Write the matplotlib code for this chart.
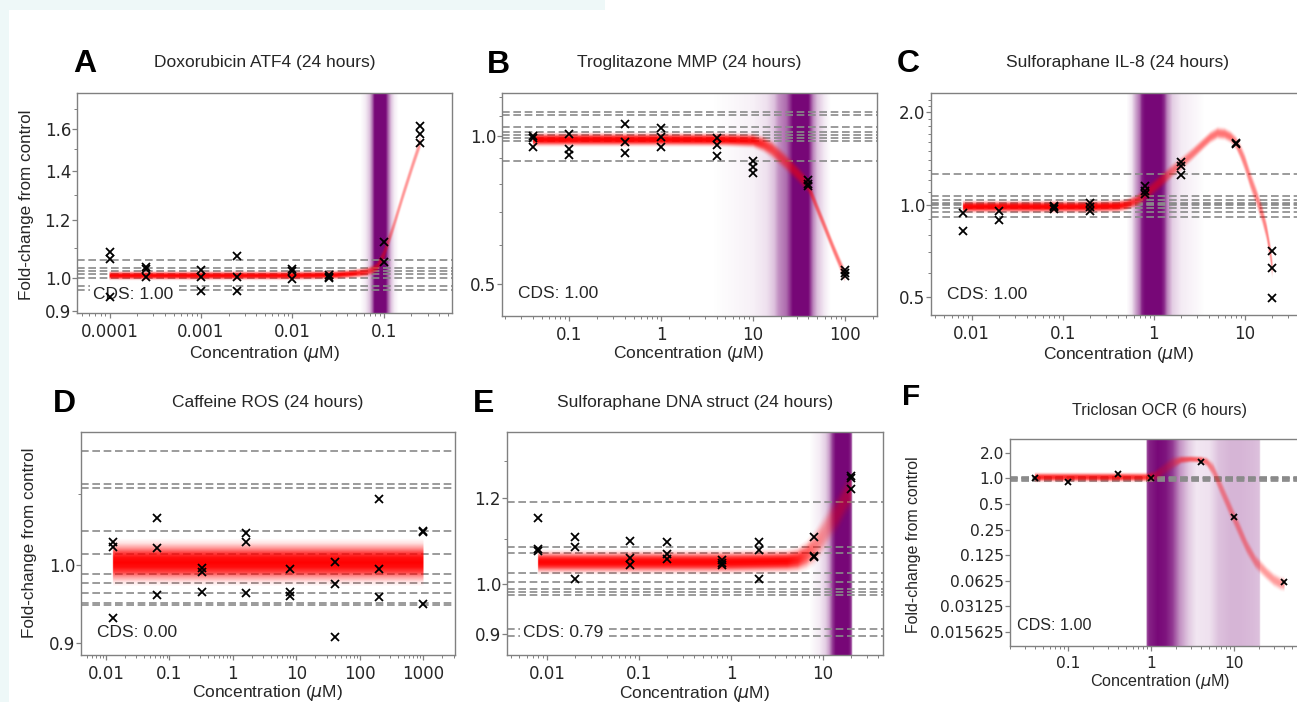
import numpy as np
import matplotlib
matplotlib.use("Agg")
import matplotlib.pyplot as plt
from matplotlib.patches import Rectangle
from matplotlib.ticker import FixedLocator, FixedFormatter, NullFormatter, LogLocator

W, H, DPI = 1297, 702, 100

# ---------------- data ----------------
# A: Doxorubicin ATF4 (24 hours)
a_dose = [0.0001, 0.0001, 0.0001, 0.00025, 0.00025, 0.00025, 0.001, 0.001, 0.001,
          0.0025, 0.0025, 0.0025, 0.01, 0.01, 0.01, 0.025, 0.025, 0.025,
          0.1, 0.1, 0.25, 0.25, 0.25]
a_fold = [1.085, 1.062, 0.940, 1.035, 1.028, 1.002, 1.024, 1.002, 0.960,
          1.071, 1.002, 0.958, 1.029, 1.021, 0.997, 1.010, 1.004, 1.000,
          1.118, 1.051, 1.615, 1.573, 1.529]
a_null = [1.059, 1.032, 1.021, 1.011, 1.000, 0.973, 0.962]
a_fit_x = [0.0001, 0.001, 0.01, 0.03, 0.046, 0.0646, 0.075, 0.085, 0.1, 0.126, 0.163, 0.21, 0.25]
a_fit_y = [1.007, 1.007, 1.007, 1.009, 1.013, 1.018, 1.025, 1.035, 1.075, 1.17, 1.30, 1.435, 1.53]
a_fit_sd = [0.007, 0.007, 0.007, 0.007, 0.007, 0.008, 0.008, 0.009, 0.012, 0.012, 0.012, 0.012, 0.012]
a_fit_w = [1.0, 1.0, 1.0, 1.0, 0.95, 0.8, 0.65, 0.55, 0.45, 0.42, 0.42, 0.42, 0.42]
a_cp_x = [0.055, 0.063, 0.07, 0.075, 0.079, 0.105, 0.112, 0.12, 0.13, 0.145]
a_cp_w = [0.0, 0.08, 0.25, 0.6, 1.0, 1.0, 0.6, 0.25, 0.08, 0.0]
a_cds = "CDS: 1.00"

# B: Troglitazone MMP (24 hours)
b_dose = [0.04, 0.04, 0.04, 0.1, 0.1, 0.1, 0.4, 0.4, 0.4, 1, 1, 1,
          4, 4, 4, 10, 10, 10, 40, 40, 40, 100, 100, 100]
b_fold = [1.0, 0.99, 0.951, 1.009, 0.94, 0.915, 1.056, 0.974, 0.922, 1.037, 0.994, 0.948,
          0.989, 0.959, 0.912, 0.891, 0.866, 0.842, 0.814, 0.80, 0.791, 0.534, 0.525, 0.519]
b_null = [1.12, 1.103, 1.041, 1.02, 1.005, 0.989, 0.978, 0.891]
b_fit_x = [0.04, 0.1, 1, 5, 10, 13, 16, 20, 25, 30, 35, 40, 50, 60, 75, 100]
b_fit_y = [0.983, 0.983, 0.983, 0.982, 0.978, 0.962, 0.94, 0.905, 0.87, 0.84, 0.815, 0.79,
           0.712, 0.655, 0.59, 0.52]
b_fit_sd = [0.016, 0.016, 0.016, 0.016, 0.017, 0.02, 0.022, 0.022, 0.022, 0.021, 0.02, 0.018,
            0.017, 0.017, 0.017, 0.017]
b_fit_w = [1.0, 1.0, 1.0, 1.0, 0.95, 0.8, 0.7, 0.6, 0.55, 0.55, 0.55, 0.55, 0.55, 0.55, 0.55, 0.55]
b_cp_x = [3.5, 6, 10, 14, 17, 19, 23, 25.5, 27, 40, 42, 45, 50, 60, 70]
b_cp_w = [0.0, 0.03, 0.06, 0.12, 0.25, 0.45, 0.6, 0.85, 1.0, 1.0, 0.8, 0.5, 0.25, 0.08, 0.0]
b_cds = "CDS: 1.00"

# C: Sulforaphane IL-8 (24 hours)
c_dose = [0.008, 0.008, 0.02, 0.02, 0.08, 0.08, 0.08, 0.2, 0.2, 0.2,
          0.8, 0.8, 0.8, 2, 2, 2, 8, 8, 20, 20, 20]
c_fold = [0.940, 0.819, 0.956, 0.889, 0.99, 0.98, 0.97, 1.017, 0.987, 0.958,
          1.153, 1.105, 1.083, 1.373, 1.339, 1.246, 1.59, 1.576, 0.705, 0.625, 0.497]
c_null = [1.262, 1.065, 1.04, 1.015, 1.005, 0.995, 0.975, 0.95, 0.915]
c_fit_x = [0.008, 0.05, 0.2, 0.4, 0.5, 0.65, 0.8, 1.0, 1.3, 1.6, 2.0, 2.7, 3.5, 4.2, 5.0,
           6.0, 7.0, 8.0, 9.0, 10, 11.5, 13.4, 15.5, 17.3, 19, 20]
c_fit_y = [0.985, 0.985, 0.985, 0.99, 1.0, 1.03, 1.08, 1.14, 1.22, 1.29, 1.36, 1.47, 1.58, 1.66,
           1.71, 1.70, 1.66, 1.59, 1.48, 1.37, 1.20, 1.06, 0.93, 0.82, 0.70, 0.62]
c_fit_sd = [0.023, 0.023, 0.023, 0.023, 0.023, 0.025, 0.028, 0.03, 0.03, 0.028, 0.027, 0.026,
            0.025, 0.025, 0.025, 0.025, 0.025, 0.028, 0.033, 0.038, 0.04, 0.04, 0.04, 0.04,
            0.04, 0.04]
c_fit_w = [1.0, 1.0, 1.0, 1.0, 0.9, 0.7, 0.55, 0.5, 0.5, 0.5, 0.5, 0.52, 0.55, 0.55, 0.55,
           0.55, 0.55, 0.52, 0.5, 0.5, 0.5, 0.5, 0.5, 0.5, 0.5, 0.5]
c_cp_x = [0.5, 0.57, 0.63, 0.7, 0.74, 0.8, 1.2, 1.3, 1.4, 1.6, 2.0, 3.0, 3.6]
c_cp_w = [0.0, 0.1, 0.35, 0.6, 0.9, 1.0, 1.0, 0.85, 0.5, 0.2, 0.08, 0.03, 0.0]
c_cds = "CDS: 1.00"

# D: Caffeine ROS (24 hours)
d_dose = [0.0128, 0.0128, 0.0128, 0.064, 0.064, 0.064, 0.32, 0.32, 0.32, 1.6, 1.6, 1.6,
          8, 8, 8, 40, 40, 40, 200, 200, 200, 1000, 1000, 1000]
d_fold = [1.032, 1.025, 0.931, 1.065, 1.023, 0.960, 0.996, 0.991, 0.964, 1.0445, 1.031, 0.963,
          0.995, 0.965, 0.959, 1.0045, 0.975, 0.908, 1.0925, 0.995, 0.9575, 1.047, 1.046, 0.949]
d_null = [1.166, 1.115, 1.109, 1.047, 1.015, 0.988, 0.9765, 0.9626, 0.9505, 0.9476]
d_fit_x = [0.0128, 1000]
d_fit_y = [1.003, 1.003]
d_fit_sd = [0.014, 0.014]
d_fit_w = [1.0, 1.0]
d_cds = "CDS: 0.00"

# E: Sulforaphane DNA struct (24 hours)
e_dose = [0.008, 0.008, 0.008, 0.02, 0.02, 0.02, 0.08, 0.08, 0.08, 0.2, 0.2, 0.2,
          0.8, 0.8, 0.8, 2, 2, 2, 8, 8, 8, 20, 20, 20]
e_fold = [1.150, 1.0766, 1.0727, 1.1044, 1.0826, 1.0107, 1.0958, 1.0576, 1.0413,
          1.0942, 1.0659, 1.054, 1.0524, 1.0464, 1.0413, 1.0942, 1.075, 1.0107,
          1.1044, 1.0621, 1.060, 1.258, 1.254, 1.224]
e_null = [1.191, 1.081, 1.069, 1.023, 1.0036, 0.9894, 0.9825, 0.9769, 0.9082, 0.8953]
e_fit_x = [0.008, 0.1, 1, 4, 5.2, 6.5, 8, 10, 12, 14.2, 17, 20]
e_fit_y = [1.047, 1.047, 1.047, 1.049, 1.052, 1.062, 1.08, 1.11, 1.14, 1.162, 1.195, 1.22]
e_fit_sd = [0.012, 0.012, 0.012, 0.012, 0.013, 0.015, 0.018, 0.02, 0.02, 0.02, 0.02, 0.02]
e_fit_w = [1.0, 1.0, 1.0, 1.0, 0.9, 0.7, 0.5, 0.38, 0.35, 0.35, 0.35, 0.35]
e_cp_x = [7, 9, 10.5, 11.5, 12.5, 13.5, 18.5, 19.5, 20.2, 20.5]
e_cp_w = [0.0, 0.08, 0.2, 0.4, 0.8, 1.0, 1.0, 0.9, 0.6, 0.0]
e_cds = "CDS: 0.79"

# F: Triclosan OCR (6 hours)
f_dose = [0.04, 0.1, 0.4, 1, 4, 10, 40]
f_fold = [1.016, 0.912, 1.114, 1.0, 1.567, 0.354, 0.0598]
f_null = [0.94, 0.96, 0.98, 1.0, 1.02, 1.04]
f_fit_x = [0.04, 0.1, 0.4, 0.9, 1.1, 1.4, 1.8, 2.3, 3.0, 4.0, 4.7, 5.6, 6.8, 8.2, 9.8,
           12, 14.2, 18, 24.7, 30, 36, 40]
f_fit_y = [1.03, 1.03, 1.03, 1.03, 1.06, 1.25, 1.5, 1.65, 1.68, 1.66, 1.55, 1.25, 0.80, 0.527,
           0.354, 0.227, 0.157, 0.105, 0.076, 0.064, 0.058, 0.057]
f_fit_sd = [0.065, 0.065, 0.065, 0.065, 0.08, 0.1, 0.1, 0.06, 0.05, 0.05, 0.07, 0.11, 0.13,
            0.13, 0.13, 0.13, 0.12, 0.11, 0.1, 0.1, 0.1, 0.1]
f_fit_w = [0.85, 0.85, 0.85, 0.8, 0.4, 0.25, 0.3, 0.55, 0.6, 0.6, 0.5, 0.42, 0.4, 0.4, 0.4,
           0.4, 0.4, 0.4, 0.4, 0.4, 0.4, 0.4]
f_cp_x = [0.87, 0.89, 0.95, 1.2, 1.5, 1.8, 2.2, 2.8, 3.5, 5.0, 6.5, 9, 12, 16, 20.2, 20.6]
f_cp_w = [0.0, 0.75, 0.9, 1.0, 0.95, 0.8, 0.45, 0.22, 0.1, 0.12, 0.25, 0.3, 0.3, 0.28, 0.25, 0.0]
f_cds = "CDS: 1.00"

# ---------------- styling ----------------
plt.rcParams["font.family"] = ["DejaVu Sans"]
plt.rcParams["mathtext.fontset"] = "dejavusans"
SANS = ["Liberation Sans", "DejaVu Sans"]
TXT = "#262626"
GRID = "#8a8a8a"
SPINE = "#808080"
RED_RGB = (1.0, 0.0, 0.0)
PURPLE_RGB = (0.47, 0.03, 0.47)
# cross-section of the fit band: |offset| / half-width -> opacity
BAND_T = [0.0, 0.2, 0.4, 0.6, 0.8, 1.0]
BAND_P = [1.0, 0.95, 0.75, 0.4, 0.12, 0.0]
OVERSAMPLE = 2

fig = plt.figure(figsize=(W / DPI, H / DPI), dpi=DPI)
fig.patch.set_facecolor("white")
fig.patches.append(Rectangle((0, 1 - 10 / H), 605 / W, 10 / H, transform=fig.transFigure,
                             facecolor="#eef8f8", edgecolor="none", zorder=-5))
fig.patches.append(Rectangle((0, 0), 9 / W, 1, transform=fig.transFigure,
                             facecolor="#eef8f8", edgecolor="none", zorder=-5))


def fx(px):
    return px / W


def fy(py):
    return 1 - py / H


def log_grid(p):
    x0, y0, x1, y1 = p["box"]
    nx = int((x1 - x0) * OVERSAMPLE)
    ny = int((y1 - y0) * OVERSAMPLE)
    lxa, lxb = np.log10(p["xlim"])
    lya, lyb = np.log10(p["ylim"])
    lx = lxa + (np.arange(nx) + 0.5) / nx * (lxb - lxa)
    ly = lya + (np.arange(ny) + 0.5) / ny * (lyb - lya)
    return lx, ly


def show_layer(ax, rgb, alpha, zorder):
    img = np.zeros(alpha.shape + (4,))
    img[..., 0], img[..., 1], img[..., 2] = rgb
    img[..., 3] = np.clip(alpha, 0, 1)
    ax.imshow(img, origin="lower", extent=(0, 1, 0, 1), transform=ax.transAxes,
              aspect="auto", interpolation="bilinear", zorder=zorder)


def draw_fit(ax, p):
    lx, ly = log_grid(p)
    xs, ys, sd, w = map(np.asarray, p["fit"])
    lfx, lfy = np.log10(xs), np.log10(ys)
    inside = (lx >= lfx[0]) & (lx <= lfx[-1])
    centre = np.interp(lx, lfx, lfy)
    half = np.interp(lx, lfx, sd)
    weight = np.interp(lx, lfx, w) * inside
    t = np.abs(ly[:, None] - centre[None, :]) / half[None, :]
    alpha = np.interp(t, BAND_T, BAND_P, right=0.0) * weight[None, :]
    show_layer(ax, RED_RGB, alpha, 3)


def draw_cp(ax, p):
    lx, ly = log_grid(p)
    xs, ws = map(np.asarray, p["cp"])
    col = np.interp(lx, np.log10(xs), ws, left=0.0, right=0.0)
    alpha = np.tile(col, (len(ly), 1))
    show_layer(ax, PURPLE_RGB, alpha, 1)


panels = [
    dict(box=(77, 93, 452, 313), xlim=(4.4e-5, 0.556), ylim=(0.895, 1.79),
         dose=a_dose, fold=a_fold, null=a_null, fit=(a_fit_x, a_fit_y, a_fit_sd, a_fit_w),
         cp=(a_cp_x, a_cp_w), cds=a_cds, cds_pos=(93, 299.3),
         xt=[1e-4, 1e-3, 1e-2, 0.1], xl=["0.0001", "0.001", "0.01", "0.1"],
         yt=[0.9, 1.0, 1.2, 1.4, 1.6], yl=["0.9", "1.0", "1.2", "1.4", "1.6"],
         ym=[1.1, 1.3, 1.5, 1.7],
         letter="A", letter_pos=(73, 72), title="Doxorubicin ATF4 (24 hours)",
         title_pos=(265, 67.5), xlab_pos=(265, 358.3), ylab_pos=(26.7, 205), scale=1.0),
    dict(box=(502, 93, 877, 316), xlim=(0.0185, 223), ylim=(0.43, 1.223),
         dose=b_dose, fold=b_fold, null=b_null, fit=(b_fit_x, b_fit_y, b_fit_sd, b_fit_w),
         cp=(b_cp_x, b_cp_w), cds=b_cds, cds_pos=(518, 298.3),
         xt=[0.1, 1, 10, 100], xl=["0.1", "1", "10", "100"],
         yt=[0.5, 1.0], yl=["0.5", "1.0"], ym=[0.6, 0.7, 0.8, 0.9, 1.1, 1.2],
         letter="B", letter_pos=(487, 73), title="Troglitazone MMP (24 hours)",
         title_pos=(689, 67), xlab_pos=(689, 358.3), ylab_pos=None, scale=1.0),
    dict(box=(931, 93, 1305, 315), xlim=(0.00357, 45.6), ylim=(0.438, 2.31),
         dose=c_dose, fold=c_fold, null=c_null, fit=(c_fit_x, c_fit_y, c_fit_sd, c_fit_w),
         cp=(c_cp_x, c_cp_w), cds=c_cds, cds_pos=(947, 299.3),
         xt=[0.01, 0.1, 1, 10], xl=["0.01", "0.1", "1", "10"],
         yt=[0.5, 1.0, 2.0], yl=["0.5", "1.0", "2.0"],
         ym=[0.6, 0.7, 0.8, 0.9, 1.1, 1.2, 1.3, 1.4, 1.5, 1.6, 1.7, 1.8, 1.9, 2.1, 2.2],
         letter="C", letter_pos=(897, 72), title="Sulforaphane IL-8 (24 hours)",
         title_pos=(1118, 67), xlab_pos=(1119, 359), ylab_pos=None, scale=1.0),
    dict(box=(81, 432, 455, 655), xlim=(0.00403, 3162), ylim=(0.886, 1.196),
         dose=d_dose, fold=d_fold, null=d_null, fit=(d_fit_x, d_fit_y, d_fit_sd, d_fit_w),
         cp=None, cds=d_cds, cds_pos=(96.7, 637.3),
         xt=[0.01, 0.1, 1, 10, 100, 1000], xl=["0.01", "0.1", "1", "10", "100", "1000"],
         yt=[0.9, 1.0], yl=["0.9", "1.0"], ym=[1.1],
         letter="D", letter_pos=(53, 412), title="Caffeine ROS (24 hours)",
         title_pos=(268, 406.5), xlab_pos=(268, 697.3), ylab_pos=(30, 543), scale=1.0),
    dict(box=(507, 432, 883, 655), xlim=(0.00366, 45.1), ylim=(0.86, 1.382),
         dose=e_dose, fold=e_fold, null=e_null, fit=(e_fit_x, e_fit_y, e_fit_sd, e_fit_w),
         cp=(e_cp_x, e_cp_w), cds=e_cds, cds_pos=(523, 636.7),
         xt=[0.01, 0.1, 1, 10], xl=["0.01", "0.1", "1", "10"],
         yt=[0.9, 1.0, 1.2], yl=["0.9", "1.0", "1.2"], ym=[1.1, 1.3],
         letter="E", letter_pos=(473, 412), title="Sulforaphane DNA struct (24 hours)",
         title_pos=(695, 406.5), xlab_pos=(695, 698.3), ylab_pos=None, scale=1.0),
    dict(box=(1010, 439, 1310, 646), xlim=(0.0199, 81.6), ylim=(0.0107, 2.90),
         dose=f_dose, fold=f_fold, null=f_null, fit=(f_fit_x, f_fit_y, f_fit_sd, f_fit_w),
         cp=(f_cp_x, f_cp_w), cds=f_cds, cds_pos=(1016.7, 630),
         xt=[0.1, 1, 10], xl=["0.1", "1", "10"],
         yt=[2.0, 1.0, 0.5, 0.25, 0.125, 0.0625, 0.03125, 0.015625],
         yl=["2.0", "1.0", "0.5", "0.25", "0.125", "0.0625", "0.03125", "0.015625"], ym=[],
         letter="F", letter_pos=(902, 405), title="Triclosan OCR (6 hours)",
         title_pos=(1160, 415), xlab_pos=(1160, 686), ylab_pos=(913, 545), scale=0.93),
]

for p in panels:
    x0, y0, x1, y1 = p["box"]
    s = p["scale"]
    ax = fig.add_axes([fx(x0), fy(y1), (x1 - x0) / W, (y1 - y0) / H])
    ax.set_xscale("log")
    ax.set_yscale("log")

    if p["cp"] is not None:
        draw_cp(ax, p)
    for v in p["null"]:
        ax.axhline(v, color=GRID, lw=1.2, ls=(0, (4.6, 2.2)), zorder=2)
    draw_fit(ax, p)
    ax.plot(p["dose"], p["fold"], "x", color="black", ms=5.2 * s, mew=1.3, zorder=6)

    ax.set_xlim(*p["xlim"])
    ax.set_ylim(*p["ylim"])

    ax.xaxis.set_major_locator(FixedLocator(p["xt"]))
    ax.xaxis.set_major_formatter(FixedFormatter(p["xl"]))
    ax.xaxis.set_minor_locator(LogLocator(base=10, subs=np.arange(2, 10) * 1.0, numticks=60))
    ax.xaxis.set_minor_formatter(NullFormatter())
    ax.yaxis.set_major_locator(FixedLocator(p["yt"]))
    ax.yaxis.set_major_formatter(FixedFormatter(p["yl"]))
    ax.yaxis.set_minor_locator(FixedLocator(p["ym"]))
    ax.yaxis.set_minor_formatter(NullFormatter())

    for sp in ax.spines.values():
        sp.set_color(SPINE)
        sp.set_linewidth(1.0)
    ax.tick_params(which="major", length=3.5, width=0.9, color=SPINE, labelcolor=TXT,
                   labelsize=12 * s)
    ax.tick_params(which="minor", length=2.0, width=0.7, color=SPINE)
    ax.tick_params(axis="y", which="major", pad=0.8)
    ax.tick_params(axis="x", which="major", pad=3.5)

    # CDS score box
    cx, cy = p["cds_pos"]
    ax.text((cx - x0) / (x1 - x0), (y1 - cy) / (y1 - y0), p["cds"], transform=ax.transAxes,
            ha="left", va="baseline", fontsize=12.5 * s, family=SANS, color=TXT, zorder=5,
            bbox=dict(facecolor="white", edgecolor="none", pad=2.5))

    lx, ly = p["letter_pos"]
    fig.text(fx(lx), fy(ly), p["letter"], ha="left", va="baseline", fontsize=23 * s,
             fontweight="bold", family=SANS, color="black")
    tx, ty = p["title_pos"]
    fig.text(fx(tx), fy(ty), p["title"], ha="center", va="baseline", fontsize=12.5 * s,
             family=SANS, color=TXT)
    xx, xy = p["xlab_pos"]
    fig.text(fx(xx), fy(xy), "Concentration ($\\mu$M)", ha="center", va="baseline",
             fontsize=12.5 * s, family=SANS, color=TXT)
    if p["ylab_pos"] is not None:
        yx, yy = p["ylab_pos"]
        fig.text(fx(yx), fy(yy), "Fold-change from control", ha="center", va="center",
                 rotation=90, fontsize=12.3 * s, family=SANS, color=TXT)

fig.savefig("out.png", dpi=DPI, facecolor="white")
